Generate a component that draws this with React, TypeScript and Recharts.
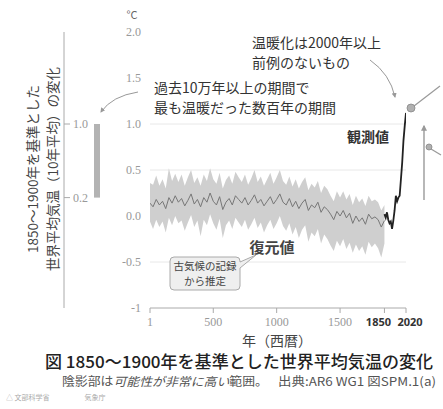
import React from 'react';
import { ComposedChart, BarChart, Bar, Area, Line, XAxis, YAxis, CartesianGrid } from 'recharts';

// reconstruction (paleoclimate), 25-year steps
const reconYears = [
  1, 25, 50, 75, 100, 125, 150, 175, 200, 225, 250, 275, 300, 325, 350, 375, 400, 425, 450, 475,
  500, 525, 550, 575, 600, 625, 650, 675, 700, 725, 750, 775, 800, 825, 850, 875, 900, 925, 950, 975,
  1000, 1025, 1050, 1075, 1100, 1125, 1150, 1175, 1200, 1225, 1250, 1275, 1300, 1325, 1350, 1375, 1400, 1425, 1450, 1475,
  1500, 1525, 1550, 1575, 1600, 1625, 1650, 1675, 1700, 1725, 1750, 1775, 1800, 1825, 1850,
];
const reconMedian = [
  0.14, 0.10, 0.18, 0.12, 0.16, 0.08, 0.20, 0.14, 0.22, 0.15, 0.19, 0.11, 0.17, 0.24, 0.13, 0.18, 0.10, 0.20, 0.15, 0.25,
  0.16, 0.12, 0.21, 0.07, 0.15, 0.19, 0.12, 0.22, 0.18, 0.14, 0.20, 0.12, 0.17, 0.23, 0.14, 0.18, 0.11, 0.16, 0.21, 0.13,
  0.18, 0.24, 0.15, 0.12, 0.19, 0.10, 0.16, 0.08, 0.14, 0.18, 0.06, 0.12, 0.09, 0.15, 0.04, 0.10, 0.07, 0.02, -0.04, 0.05,
  0.00, 0.06, -0.02, 0.03, -0.08, 0.00, -0.06, -0.02, -0.09, 0.02, -0.03, -0.01, -0.04, -0.12, -0.05,
];
const reconLow = [
  -0.06, -0.14, -0.04, -0.12, -0.06, -0.18, -0.02, -0.10, 0.00, -0.08, -0.05, -0.16, -0.07, 0.01, -0.12, -0.05, -0.22, -0.04, -0.10, 0.02,
  -0.08, -0.15, -0.03, -0.24, -0.10, -0.05, -0.14, -0.02, -0.07, -0.12, -0.04, -0.15, -0.09, -0.02, -0.13, -0.07, -0.18, -0.10, -0.04, -0.14,
  -0.08, 0.00, -0.11, -0.16, -0.08, -0.20, -0.12, -0.24, -0.15, -0.10, -0.28, -0.18, -0.22, -0.14, -0.30, -0.20, -0.25, -0.32, -0.38, -0.27,
  -0.33, -0.25, -0.36, -0.29, -0.40, -0.31, -0.38, -0.33, -0.42, -0.28, -0.34, -0.30, -0.35, -0.45, -0.30,
];
const reconHigh = [
  0.36, 0.34, 0.44, 0.33, 0.40, 0.30, 0.52, 0.38, 0.46, 0.37, 0.45, 0.33, 0.42, 0.50, 0.36, 0.42, 0.33, 0.45, 0.38, 0.52,
  0.40, 0.35, 0.47, 0.30, 0.39, 0.44, 0.35, 0.48, 0.42, 0.37, 0.45, 0.34, 0.41, 0.50, 0.37, 0.43, 0.33, 0.40, 0.47, 0.35,
  0.42, 0.50, 0.38, 0.34, 0.43, 0.32, 0.40, 0.30, 0.37, 0.42, 0.28, 0.35, 0.31, 0.38, 0.25, 0.33, 0.29, 0.22, 0.16, 0.27,
  0.20, 0.27, 0.18, 0.24, 0.12, 0.22, 0.15, 0.19, 0.11, 0.22, 0.16, 0.18, 0.15, 0.06, 0.12,
];

// observed, decadal
const obsYears = [1850, 1860, 1870, 1880, 1890, 1900, 1910, 1920, 1930, 1940, 1950, 1960, 1970, 1980, 1990, 2000, 2010, 2020];
const obsValues = [0.02, -0.02, 0.04, -0.04, -0.08, -0.06, -0.14, -0.05, 0.06, 0.22, 0.16, 0.20, 0.22, 0.40, 0.58, 0.82, 0.98, 1.12];

// warmest multi-century period of the last 100,000+ years
const warmRange = [0.2, 1.0];

const yTicks = [-1, -0.5, 0, 0.5, 1, 1.5, 2];
const xTicks = [1, 500, 1000, 1500, 1850, 2020];

const reconData = reconYears.map((year, i) => ({ year, median: reconMedian[i], band: [reconLow[i], reconHigh[i]] }));
const obsData = obsYears.map((year, i) => ({ year, obs: obsValues[i] }));
const warmData = [{ name: 'warm', range: warmRange }];

const JP = '"Noto Sans CJK JP", "Noto Sans", sans-serif';
const SERIF = '"Liberation Serif", "DejaVu Serif", serif';

const XTick = (props: any) => {
  const { x, y, payload } = props;
  const bold = payload.value >= 1850;
  // the two bold labels sit close together, nudge them apart
  const dx = payload.value === 1850 ? -6 : payload.value === 2020 ? 4 : 0;
  return (
    <text
      x={x}
      y={y}
      dx={dx}
      dy={10}
      textAnchor="middle"
      fontFamily={bold ? '"Noto Sans", sans-serif' : SERIF}
      fontSize={bold ? 11 : 12}
      fontWeight={bold ? 700 : 400}
      fill={bold ? '#333' : '#999'}
    >
      {payload.value}
    </text>
  );
};

const yFmt = (v: number) => (v === -1 ? '-1' : v.toFixed(1));

export default function App() {
  return (
    <div style={{ position: 'fixed', left: 0, top: 0, width: 443, height: 409, background: '#fff' }}>
      {/* main chart */}
      <div style={{ position: 'absolute', left: 0, top: 0 }}>
        <ComposedChart width={443} height={409} margin={{ top: 32, right: 37, bottom: 71, left: 100 }}>
          <CartesianGrid vertical={false} horizontalValues={[-0.5, 0.5, 1]} stroke="#e8e8e8" />
          <XAxis
            type="number"
            dataKey="year"
            domain={[1, 2020]}
            ticks={xTicks}
            interval={0}
            allowDataOverflow
            height={30}
            stroke="#aaa"
            tickSize={5}
            tickMargin={3}
            tick={<XTick />}
          />
          <YAxis
            type="number"
            domain={[-1, 2]}
            ticks={yTicks}
            width={50}
            axisLine={false}
            tickLine={false}
            tickSize={6}
            tickMargin={3}
            tickFormatter={yFmt}
            tick={{ fill: '#999', fontSize: 12, fontFamily: SERIF }}
          />
          <Area
            data={reconData}
            dataKey="band"
            type="linear"
            stroke="none"
            fill="#cfcfcf"
            fillOpacity={1}
            isAnimationActive={false}
          />
          <Line
            data={reconData}
            dataKey="median"
            type="linear"
            stroke="#777"
            strokeWidth={1}
            dot={false}
            isAnimationActive={false}
          />
          <Line
            data={obsData}
            dataKey="obs"
            type="linear"
            stroke="#222"
            strokeWidth={1.8}
            dot={false}
            isAnimationActive={false}
          />
        </ComposedChart>
      </div>

      {/* left scale with the warm-period bar */}
      <div style={{ position: 'absolute', left: 0, top: 0 }}>
        <BarChart width={130} height={409} data={warmData} margin={{ top: 32, right: 1, bottom: 101, left: 64 }}>
          <XAxis dataKey="name" hide />
          <YAxis
            type="number"
            domain={[-1, 2]}
            ticks={warmRange}
            width={1}
            mirror
            stroke="#aaa"
            tickSize={6}
            tickMargin={3}
            tickFormatter={(v: number) => v.toFixed(1)}
            tick={{ fill: '#999', fontSize: 12, fontFamily: SERIF }}
          />
          <Bar dataKey="range" barSize={6} fill="#b3b3b3" isAnimationActive={false} />
        </BarChart>
      </div>

      {/* annotations */}
      <svg width={443} height={409} style={{ position: 'absolute', left: 0, top: 0, pointerEvents: 'none' }}>
        <defs>
          <marker id="ah" viewBox="0 0 10 10" refX="8" refY="5" markerWidth="5" markerHeight="5" orient="auto">
            <path d="M0,0 L10,5 L0,10 z" fill="#999" />
          </marker>
        </defs>
        <text x={132} y={19} textAnchor="middle" fontSize={11} fill="#666" fontFamily={JP}>°C</text>

        <text transform="translate(38,169) rotate(-90)" textAnchor="middle" fontSize={13.5} fill="#444" fontFamily={JP}>
          1850～1900年を基準とした
        </text>
        <text transform="translate(58,169) rotate(-90)" textAnchor="middle" fontSize={13.5} fill="#444" fontFamily={JP}>
          世界平均気温（10年平均）の変化
        </text>

        <text x={154} y={93} fontSize={14} fill="#333" fontFamily={JP}>過去10万年以上の期間で</text>
        <text x={154} y={113} fontSize={14} fill="#333" fontFamily={JP}>最も温暖だった数百年の期間</text>
        <path d="M138,92 Q112,96 101,112" fill="none" stroke="#999" strokeWidth={1} markerEnd="url(#ah)" />

        <text x={252} y={48} fontSize={14} fill="#333" fontFamily={JP}>温暖化は2000年以上</text>
        <text x={252} y={68} fontSize={14} fill="#333" fontFamily={JP}>前例のないもの</text>
        <path d="M370,60 Q390,74 395,97" fill="none" stroke="#999" strokeWidth={1} markerEnd="url(#ah)" />

        <text x={347} y={142} fontSize={14} fontWeight={700} fill="#333" fontFamily={JP}>観測値</text>
        <text x={272} y={253} fontSize={15} fontWeight={700} textAnchor="middle" fill="#444" fontFamily={JP}>復元値</text>

        <path d="M174,257 L236,257 Q240,257 240,261 L240,262 L256,255 L240,268 L240,286 Q240,290 236,290 L174,290 Q170,290 170,286 L170,261 Q170,257 174,257 Z"
          fill="#efefef" stroke="#aaa" strokeWidth={1} />
        <text x={205} y={270} fontSize={10.5} textAnchor="middle" fill="#444" fontFamily={JP}>古気候の記録</text>
        <text x={205} y={285} fontSize={10.5} textAnchor="middle" fill="#444" fontFamily={JP}>から推定</text>

        <line x1={414} y1={106} x2={440} y2={86} stroke="#999" strokeWidth={1.2} />
        <circle cx={411} cy={108} r={4} fill="#b0b0b0" stroke="#888" strokeWidth={0.8} />
        <line x1={424} y1={200} x2={424} y2={126} stroke="#888" strokeWidth={1.2} markerEnd="url(#ah)" />
        <line x1={431} y1={149} x2={441} y2={155} stroke="#999" strokeWidth={1.2} />
        <circle cx={429} cy={147} r={3} fill="#b0b0b0" stroke="#888" strokeWidth={0.8} />

        <text x={277} y={346} fontSize={14} textAnchor="middle" fill="#444" fontFamily={JP}>年（西暦）</text>
        <text x={45} y={368} fontSize={16.5} fontWeight={500} fill="#222" fontFamily={JP} textLength={388} lengthAdjust="spacingAndGlyphs">
          図 1850～1900年を基準とした世界平均気温の変化
        </text>
        <text x={62} y={386} fontSize={12} fill="#555" fontFamily={JP} textLength={206} lengthAdjust="spacingAndGlyphs">
          陰影部は<tspan fontStyle="italic">可能性が非常に高い</tspan>範囲。
        </text>
        <text x={278} y={386} fontSize={12} fill="#555" fontFamily={JP} textLength={158} lengthAdjust="spacingAndGlyphs">
          出典:AR6 WG1 図SPM.1(a)
        </text>
        <text x={6} y={400} fontSize={7} fill="#aaa" fontFamily={JP}>△ 文部科学省　　　　　気象庁</text>
      </svg>
    </div>
  );
}
